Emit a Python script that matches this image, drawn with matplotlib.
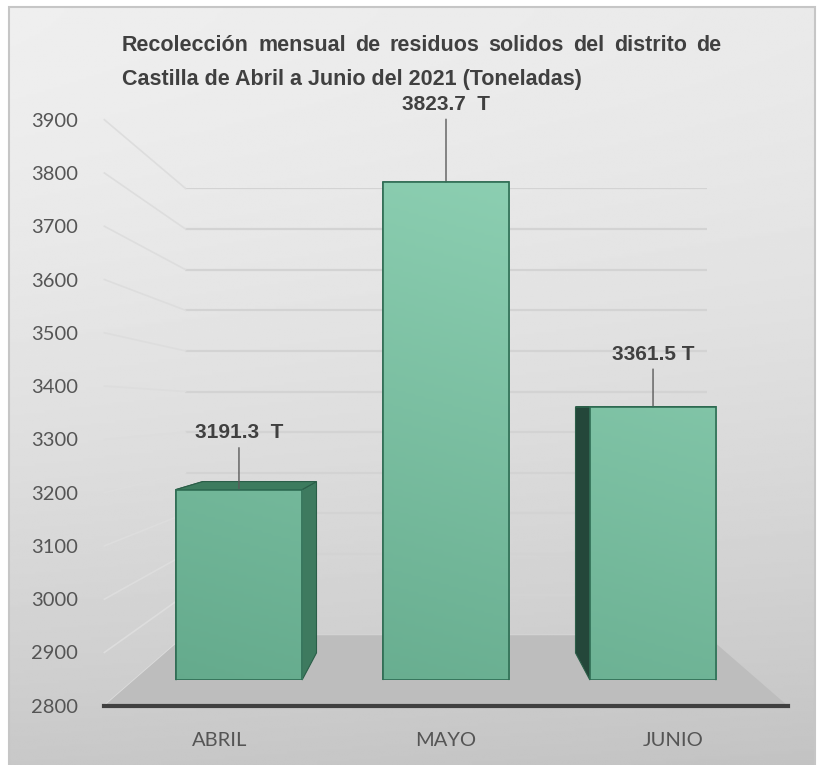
import numpy as np
import matplotlib.pyplot as plt
from matplotlib.patches import Polygon, Rectangle
from matplotlib.colors import LinearSegmentedColormap

months = ["ABRIL", "MAYO", "JUNIO"]
tonnes = [3191.3, 3823.7, 3361.5]
value_labels = ["3191.3  T", "3823.7  T", "3361.5 T"]
y_ticks = list(range(2800, 4000, 100))
title_line1 = "Recolección mensual de residuos solidos del distrito de"
title_line2 = "Castilla de Abril a Junio del 2021 (Toneladas)"

# label offsets (points above bar top) as placed in the original
label_offsets = [41, 56, 38]

W, H = 819, 765
VX, VY = 446, H - 409            # vanishing point (pixels from bottom-left)
FRONT = (134, 758, 85, 620.2)    # x0, x1, y0, y1 of the bar front plane
XLIM = (-0.507, len(months) - 1 + 0.507)
YLIM = (y_ticks[0], y_ticks[-1])

TITLE_FONT = ['Liberation Sans', 'DejaVu Sans']
TICK_FONT = ['Lato', 'DejaVu Sans']

fig = plt.figure(figsize=(W / 100, H / 100), dpi=100)
fig.patch.set_facecolor('white')


def plane(s, z):
    # axes scaled around the vanishing point -> one depth plane
    x0 = VX + (FRONT[0] - VX) * s
    x1 = VX + (FRONT[1] - VX) * s
    y0 = VY + (FRONT[2] - VY) * s
    y1 = VY + (FRONT[3] - VY) * s
    ax = fig.add_axes([x0 / W, y0 / H, (x1 - x0) / W, (y1 - y0) / H])
    ax.set_xlim(*XLIM)
    ax.set_ylim(*YLIM)
    ax.patch.set_alpha(0)
    ax.set_zorder(z)
    return ax


def px(ax, x, y):
    return ax.transData.transform((x, y))


# background panel
bg = fig.add_axes([0, 0, 1, 1])
bg.set_xlim(0, W)
bg.set_ylim(0, H)
bg.set_axis_off()
bg.set_zorder(0)
t = np.linspace(0, 1, 300)[:, None]
u = np.linspace(0, 1, 300)[None, :]
shade = 0.935 - 0.15 * t ** 1.6 - 0.02 * u
bg.imshow(shade, cmap='gray', vmin=0, vmax=1, origin='upper',
          extent=(9, 815, 0, 758), aspect='auto')
bg.add_patch(Rectangle((9, -2), 806, 760, fill=False, edgecolor='#c6c6c6', lw=1.5))

wall = plane(0.835, 1)
wall.set_axis_off()
back = plane(0.9, 1)
back.set_axis_off()
front = plane(1.0, 3)
front.set_axis_off()
lab = plane(1.095, 4)

deco = fig.add_axes([0, 0, 1, 1])
deco.set_xlim(0, W)
deco.set_ylim(0, H)
deco.set_axis_off()
deco.patch.set_alpha(0)
deco.set_zorder(2)

# back wall gridlines + side diagonals
wall.hlines(y_ticks, XLIM[0], XLIM[1], color='#d3d3d3', lw=1.6)
for v in y_ticks:
    p0 = px(lab, XLIM[0], v)
    p1 = px(wall, XLIM[0], v)
    deco.plot([p0[0], p1[0]], [p0[1], p1[1]], color='#dddddd', lw=1.2, zorder=1)

# floor
floor = [px(lab, XLIM[0], YLIM[0]), px(lab, XLIM[1], YLIM[0]),
         px(wall, XLIM[1], YLIM[0]), px(wall, XLIM[0], YLIM[0])]
deco.add_patch(Polygon(floor, closed=True, facecolor='#bdbdbd', edgecolor='none', zorder=2))

# bar side and top faces
width = 0.61
for i, v in enumerate(tonnes):
    xl, xr = i - width / 2, i + width / 2
    for xs, col in ((xl, '#24473a'), (xr, '#3e7a5f')):
        side = [px(front, xs, YLIM[0]), px(front, xs, v), px(back, xs, v), px(back, xs, YLIM[0])]
        deco.add_patch(Polygon(side, closed=True, facecolor=col, edgecolor='#2b5e48', lw=0.8, zorder=3))
    top = [px(front, xl, v), px(front, xr, v), px(back, xr, v), px(back, xl, v)]
    deco.add_patch(Polygon(top, closed=True, facecolor='#3d7b5e', edgecolor='#2b5e48', lw=0.8, zorder=4))

# bar front faces with a soft gradient
bars = front.bar(range(len(months)), [v - YLIM[0] for v in tonnes], bottom=YLIM[0],
                 width=width, facecolor='none', edgecolor='#2f6d54', lw=1.2, zorder=4)
cmap = LinearSegmentedColormap.from_list('green', ['#64aa8c', '#93d5b8'])
gx = np.linspace(0, 1, 200)[None, :]
gy = np.linspace(0, 1, 200)[:, None]
grad = 0.25 * gx + 0.75 * gy
for b in bars:
    im = front.imshow(grad, cmap=cmap, vmin=0, vmax=1, origin='lower', aspect='auto',
                      extent=(XLIM[0], XLIM[1], YLIM[0], YLIM[1]), zorder=3)
    im.set_clip_path(b)
front.set_xlim(*XLIM)
front.set_ylim(*YLIM)

for i, (v, txt, off) in enumerate(zip(tonnes, value_labels, label_offsets)):
    front.annotate(txt, xy=(i, v), xytext=(0, off), textcoords='offset points',
                   ha='center', va='center', fontsize=15, fontweight='bold',
                   color='#404040', family=TITLE_FONT, annotation_clip=False,
                   arrowprops=dict(arrowstyle='-', color='#5a5a5a', lw=1, shrinkA=2, shrinkB=0))

# axis with labels (front-most plane)
lab.set_yticks(y_ticks)
lab.set_yticklabels([str(v) for v in y_ticks], family=TICK_FONT, fontsize=14.5, color='#555555')
lab.set_xticks(range(len(months)))
lab.set_xticklabels(months, family=TICK_FONT, fontsize=14.5, color='#555555')
lab.tick_params(axis='y', length=0, pad=19)
lab.tick_params(axis='x', length=0, pad=19)
for name in ('top', 'right', 'left'):
    lab.spines[name].set_visible(False)
lab.spines['bottom'].set_color('#404040')
lab.spines['bottom'].set_linewidth(3)

# title, first line justified like the original
renderer = fig.canvas.get_renderer()
words = title_line1.split()
left, right = 122, 721
size = 17.0
while True:
    objs = [deco.text(0, H - 45, w, fontsize=size, fontweight='bold', color='#404040',
                      family=TITLE_FONT, va='center', ha='left') for w in words]
    widths = [o.get_window_extent(renderer).width for o in objs]
    gap = (right - left - sum(widths)) / (len(words) - 1)
    if gap >= 7 or size < 10:
        break
    for o in objs:
        o.remove()
    size -= 0.5
xpos = left
for o, w in zip(objs, widths):
    o.set_x(xpos)
    xpos += w + gap
deco.text(left, H - 79, title_line2, fontsize=size, fontweight='bold', color='#404040',
          family=TITLE_FONT, va='center', ha='left')

fig.savefig('out.png', dpi=100)
